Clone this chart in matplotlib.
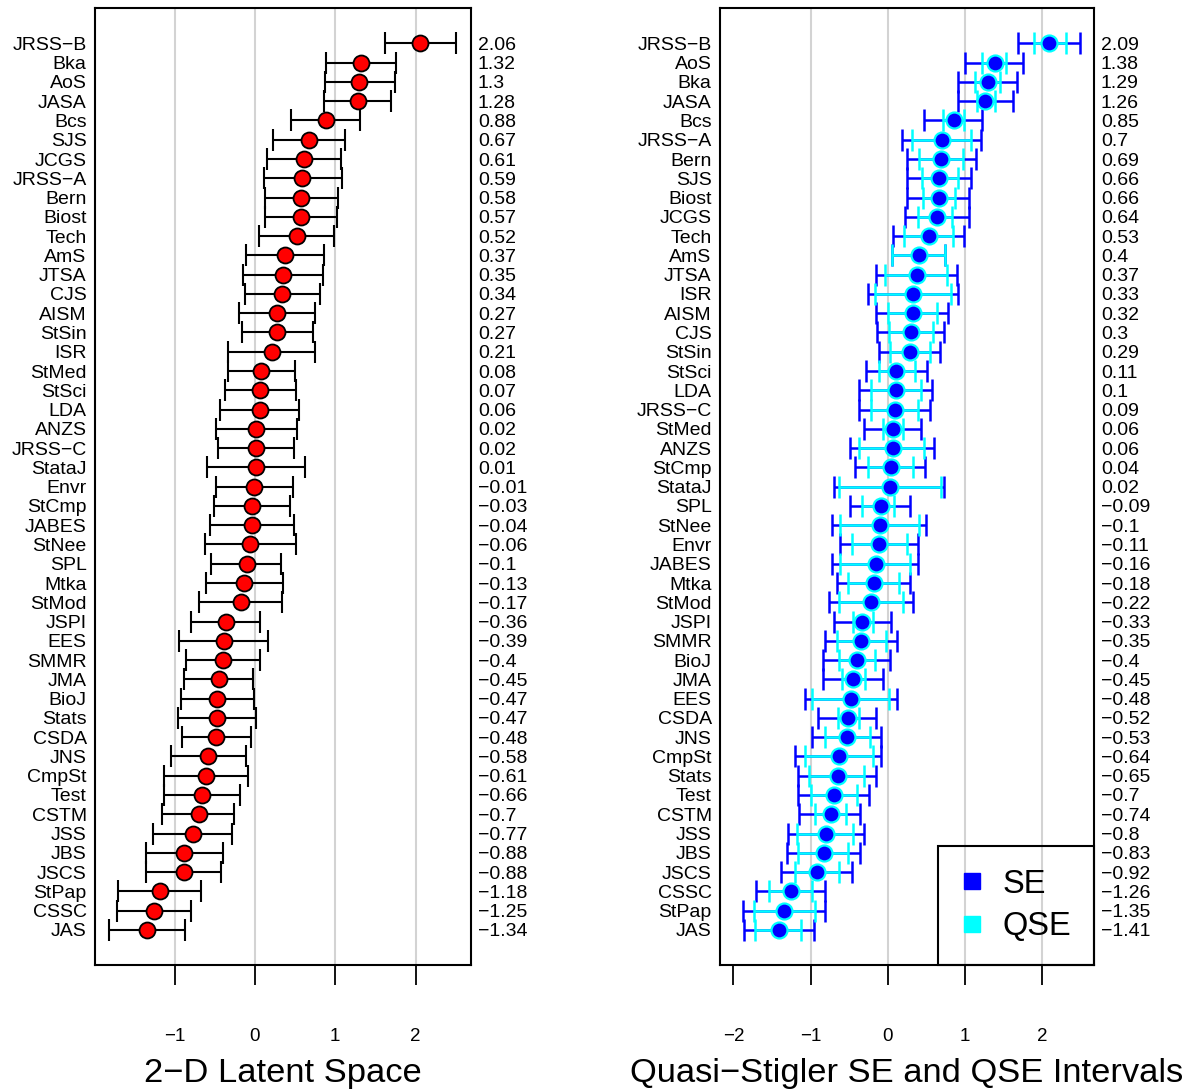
#! /usr/bin/env python3

import matplotlib as mpl
mpl.use('Agg')
import matplotlib.pyplot as plt
from matplotlib import lines

MINUS = '\u2212'

# left panel: 2-D latent space estimates with intervals
LEFT_NAMES = ['JRSS-B', 'Bka', 'AoS', 'JASA', 'Bcs', 'SJS', 'JCGS', 'JRSS-A',
              'Bern', 'Biost', 'Tech', 'AmS', 'JTSA', 'CJS', 'AISM', 'StSin',
              'ISR', 'StMed', 'StSci', 'LDA', 'ANZS', 'JRSS-C', 'StataJ',
              'Envr', 'StCmp', 'JABES', 'StNee', 'SPL', 'Mtka', 'StMod',
              'JSPI', 'EES', 'SMMR', 'JMA', 'BioJ', 'Stats', 'CSDA', 'JNS',
              'CmpSt', 'Test', 'CSTM', 'JSS', 'JBS', 'JSCS', 'StPap', 'CSSC',
              'JAS']
LEFT_EST = [2.06, 1.32, 1.3, 1.28, 0.88, 0.67, 0.61, 0.59, 0.58, 0.57, 0.52,
            0.37, 0.35, 0.34, 0.27, 0.27, 0.21, 0.08, 0.07, 0.06, 0.02, 0.02,
            0.01, -0.01, -0.03, -0.04, -0.06, -0.1, -0.13, -0.17, -0.36,
            -0.39, -0.4, -0.45, -0.47, -0.47, -0.48, -0.58, -0.61, -0.66,
            -0.7, -0.77, -0.88, -0.88, -1.18, -1.25, -1.34]
LEFT_LO = [1.62, 0.89, 0.87, 0.86, 0.45, 0.22, 0.155, 0.11, 0.12, 0.12, 0.05,
           -0.11, -0.15, -0.12, -0.20, -0.16, -0.34, -0.34, -0.37, -0.43,
           -0.49, -0.46, -0.60, -0.49, -0.51, -0.56, -0.62, -0.54, -0.61,
           -0.69, -0.79, -0.94, -0.86, -0.88, -0.92, -0.96, -0.91, -1.04,
           -1.13, -1.13, -1.15, -1.27, -1.36, -1.35, -1.70, -1.71, -1.81]
LEFT_HI = [2.51, 1.76, 1.74, 1.70, 1.31, 1.12, 1.07, 1.09, 1.04, 1.02, 0.99,
           0.86, 0.85, 0.81, 0.75, 0.72, 0.75, 0.50, 0.51, 0.55, 0.52, 0.49,
           0.63, 0.47, 0.44, 0.49, 0.51, 0.33, 0.35, 0.34, 0.07, 0.16, 0.07,
           -0.02, -0.01, 0.01, -0.05, -0.11, -0.09, -0.19, -0.26, -0.28,
           -0.40, -0.42, -0.67, -0.79, -0.87]

# right panel: quasi-Stigler estimates with SE and QSE intervals
RIGHT_NAMES = ['JRSS-B', 'AoS', 'Bka', 'JASA', 'Bcs', 'JRSS-A', 'Bern', 'SJS',
               'Biost', 'JCGS', 'Tech', 'AmS', 'JTSA', 'ISR', 'AISM', 'CJS',
               'StSin', 'StSci', 'LDA', 'JRSS-C', 'StMed', 'ANZS', 'StCmp',
               'StataJ', 'SPL', 'StNee', 'Envr', 'JABES', 'Mtka', 'StMod',
               'JSPI', 'SMMR', 'BioJ', 'JMA', 'EES', 'CSDA', 'JNS', 'CmpSt',
               'Stats', 'Test', 'CSTM', 'JSS', 'JBS', 'JSCS', 'CSSC', 'StPap',
               'JAS']
RIGHT_EST = [2.09, 1.38, 1.29, 1.26, 0.85, 0.7, 0.69, 0.66, 0.66, 0.64, 0.53,
             0.4, 0.37, 0.33, 0.32, 0.3, 0.29, 0.11, 0.1, 0.09, 0.06, 0.06,
             0.04, 0.02, -0.09, -0.1, -0.11, -0.16, -0.18, -0.22, -0.33,
             -0.35, -0.4, -0.45, -0.48, -0.52, -0.53, -0.64, -0.65, -0.7,
             -0.74, -0.8, -0.83, -0.92, -1.26, -1.35, -1.41]
SE_LO = [1.68, 1.00, 0.91, 0.90, 0.47, 0.18, 0.24, 0.24, 0.25, 0.22, 0.07,
         0.05, -0.16, -0.26, -0.16, -0.14, -0.11, -0.28, -0.38, -0.38, -0.31,
         -0.49, -0.43, -0.70, -0.49, -0.72, -0.62, -0.73, -0.66, -0.77, -0.70,
         -0.82, -0.84, -0.84, -1.08, -0.90, -0.99, -1.20, -1.16, -1.16, -1.15,
         -1.30, -1.31, -1.38, -1.71, -1.88, -1.87]
SE_HI = [2.49, 1.75, 1.67, 1.62, 1.22, 1.20, 1.14, 1.08, 1.05, 1.05, 0.98,
         0.74, 0.89, 0.91, 0.78, 0.73, 0.67, 0.51, 0.57, 0.54, 0.43, 0.59,
         0.48, 0.73, 0.29, 0.49, 0.39, 0.39, 0.29, 0.32, 0.04, 0.12, 0.02,
         -0.07, 0.12, -0.15, -0.09, -0.09, -0.15, -0.25, -0.36, -0.31, -0.36,
         -0.47, -0.82, -0.82, -0.96]
QSE_LO = [1.89, 1.22, 1.12, 1.15, 0.71, 0.31, 0.40, 0.44, 0.45, 0.39, 0.21,
          0.05, -0.04, -0.17, 0.0, 0.01, 0.02, -0.11, -0.22, -0.22, -0.07,
          -0.37, -0.26, -0.64, -0.33, -0.62, -0.47, -0.62, -0.52, -0.64,
          -0.45, -0.66, -0.64, -0.60, -0.98, -0.65, -0.82, -1.08, -1.02,
          -1.00, -0.95, -1.18, -1.16, -1.21, -1.54, -1.74, -1.72]
QSE_HI = [2.30, 1.53, 1.45, 1.38, 0.98, 1.07, 0.97, 0.90, 0.87, 0.83, 0.84,
          0.74, 0.77, 0.82, 0.63, 0.58, 0.55, 0.35, 0.43, 0.39, 0.19, 0.47,
          0.32, 0.68, 0.08, 0.40, 0.25, 0.28, 0.14, 0.19, -0.20, -0.03,
          -0.17, -0.30, 0.01, -0.38, -0.23, -0.20, -0.31, -0.40, -0.55,
          -0.45, -0.52, -0.63, -0.99, -0.95, -1.12]

LEFT_TICKS = [-1, 0, 1, 2]
RIGHT_TICKS = [-2, -1, 0, 1, 2]
GRID_X = [-1, 0, 1, 2]

LABEL_SIZE = 14
TITLE_SIZE = 24.8
GRID_STYLE = {'color': '#d3d3d3', 'linewidth': 1.5, 'zorder': 0}


def fmt(v):
    return format(round(v, 2), 'g').replace('-', MINUS)


def style_axes(ax, names, est, ticks, xlim, xlabel):
    rows = list(range(len(names)))
    ax.set_xlim(*xlim)
    ax.set_ylim(47.82, -1.84)
    ax.set_yticks(rows)
    ax.set_yticklabels([n.replace('-', MINUS) for n in names],
                       fontsize=LABEL_SIZE)
    ax.tick_params(axis='y', length=0, pad=6)
    ax.set_xticks(ticks)
    ax.set_xticklabels([str(t).replace('-', MINUS) for t in ticks],
                       fontsize=13.5)
    ax.tick_params(axis='x', length=14.5, width=1.3, pad=31)
    ax.set_xlabel(xlabel, fontsize=TITLE_SIZE, labelpad=9)
    for x in GRID_X:
        ax.axvline(x, **GRID_STYLE)
    for spine in ax.spines.values():
        spine.set_linewidth(1.5)
    right = ax.twinx()
    right.set_ylim(47.82, -1.84)
    right.set_yticks(rows)
    right.set_yticklabels([fmt(v) for v in est], fontsize=LABEL_SIZE)
    right.tick_params(axis='y', length=0, pad=5)
    for spine in right.spines.values():
        spine.set_visible(False)
    return rows


def main():
    mpl.rcParams['font.family'] = ['Liberation Sans', 'DejaVu Sans']
    fig = plt.figure(figsize=(11.92, 10.89), dpi=100)
    ax1 = fig.add_axes([0.0797, 0.1139, 0.3154, 0.8788])
    ax2 = fig.add_axes([0.6040, 0.1139, 0.3138, 0.8788])

    # left panel
    rows = style_axes(ax1, LEFT_NAMES, LEFT_EST, LEFT_TICKS, (-1.99, 2.69),
                      '2' + MINUS + 'D Latent Space')
    ax1.errorbar(LEFT_EST, rows,
                 xerr=[[e - l for e, l in zip(LEFT_EST, LEFT_LO)],
                       [h - e for e, h in zip(LEFT_EST, LEFT_HI)]],
                 fmt='none', ecolor='black', elinewidth=1.5, capsize=8,
                 capthick=1.5, zorder=2)
    ax1.plot(LEFT_EST, rows, linestyle='none', marker='o', markersize=11.5,
             markerfacecolor='red', markeredgecolor='black',
             markeredgewidth=1.3, zorder=3)

    # right panel
    rows = style_axes(ax2, RIGHT_NAMES, RIGHT_EST, RIGHT_TICKS,
                      (-2.175, 2.667),
                      'Quasi' + MINUS + 'Stigler SE and QSE Intervals')
    ax2.errorbar(RIGHT_EST, rows,
                 xerr=[[e - l for e, l in zip(RIGHT_EST, SE_LO)],
                       [h - e for e, h in zip(RIGHT_EST, SE_HI)]],
                 fmt='none', ecolor='blue', elinewidth=1.8, capsize=8,
                 capthick=1.8, zorder=2)
    ax2.errorbar(RIGHT_EST, rows,
                 xerr=[[e - l for e, l in zip(RIGHT_EST, QSE_LO)],
                       [h - e for e, h in zip(RIGHT_EST, QSE_HI)]],
                 fmt='none', ecolor='cyan', elinewidth=1.8, capsize=8,
                 capthick=1.8, zorder=2.5)
    ax2.plot(RIGHT_EST, rows, linestyle='none', marker='o', markersize=11.5,
             markerfacecolor='blue', markeredgecolor='cyan',
             markeredgewidth=1.6, zorder=3)

    handles = [
        lines.Line2D([], [], linestyle='none', marker='s', markersize=11.5,
                     color='blue', label='SE'),
        lines.Line2D([], [], linestyle='none', marker='s', markersize=11.5,
                     color='cyan', label='QSE'),
    ]
    leg = ax2.legend(handles=handles, loc='lower right', borderaxespad=0,
                     fontsize=23.5, fancybox=False, framealpha=1,
                     edgecolor='black', facecolor='none', handlelength=0.67,
                     handletextpad=0.6, borderpad=0.7, labelspacing=0.35)
    leg.get_frame().set_linewidth(1.5)
    leg.set_zorder(5)

    plt.savefig('out.png', dpi=100)
    plt.close()


if __name__ == '__main__':
    main()
